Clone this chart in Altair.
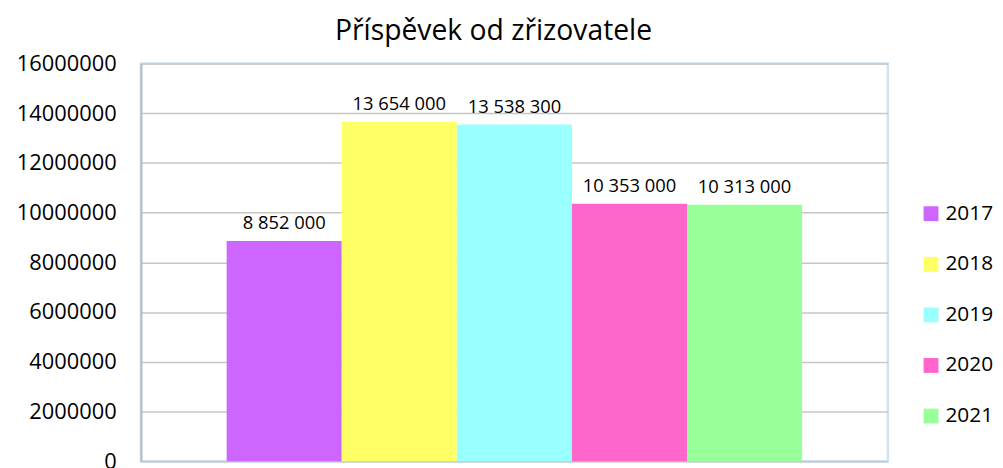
import altair as alt
import pandas as pd

years = ["2017", "2018", "2019", "2020", "2021"]
values = [8852000, 13654000, 13538300, 10353000, 10313000]
colors = ["#CC66FF", "#FFFF66", "#99FFFF", "#FF66CC", "#99FF99"]
y_ticks = [0, 2000000, 4000000, 6000000, 8000000, 10000000, 12000000, 14000000, 16000000]
title_text = "Příspěvek od zřizovatele"

df = pd.DataFrame({
    "rok": years,
    "hodnota": values,
    "popisek": [f"{v:,}".replace(",", " ") for v in values],
})

FONT = "Open Sans"

x = alt.X("rok:N", axis=None,
          scale=alt.Scale(paddingInner=0, paddingOuter=0.745, align=0.5))
y = alt.Y("hodnota:Q",
          scale=alt.Scale(domain=[0, 16000000], nice=False),
          axis=alt.Axis(values=y_ticks, format="d", title=None,
                        labelFont=FONT, labelFontSize=22, labelColor="#000000",
                        labelPadding=25, ticks=False, domain=True,
                        domainColor="#AEBBC8", domainWidth=2,
                        grid=True, gridColor="#C6C6C6", gridWidth=1.5,
                        labelFlush=False))

bars = alt.Chart(df).mark_bar().encode(
    x=x,
    y=y,
    color=alt.Color("rok:N", scale=alt.Scale(domain=years, range=colors),
                    legend=alt.Legend(title=None, orient="none",
                                      legendX=786, legendY=141,
                                      symbolType="square", symbolSize=225,
                                      symbolStrokeWidth=0,
                                      labelFont=FONT, labelFontSize=21,
                                      labelColor="#000000", labelOffset=4,
                                      rowPadding=29)),
)

labels = alt.Chart(df).mark_text(
    baseline="alphabetic", dy=-12, font=FONT, fontSize=18.5, color="#000000"
).encode(
    x=x,
    y=alt.Y("hodnota:Q", scale=alt.Scale(domain=[0, 16000000], nice=False)),
    text="popisek:N",
)

chart = alt.layer(bars, labels).properties(
    width=753,
    height=401,
    title=alt.TitleParams(title_text, font=FONT, fontSize=28.5, fontWeight="normal",
                          color="#000000", offset=7, anchor="middle", dx=-21),
    autosize=alt.AutoSizeParams(type="none"),
    padding={"left": 134, "top": 54, "right": 108, "bottom": 5},
).configure_view(
    stroke="#D0E3F2", strokeWidth=2.5
)

chart.save("out.html", embed_options={"renderer": "svg", "actions": False})
